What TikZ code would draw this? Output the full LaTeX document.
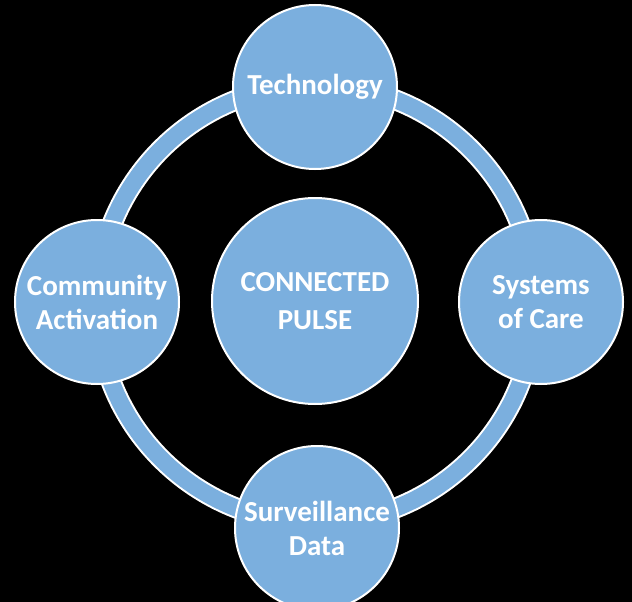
\documentclass[tikz,border=0pt]{standalone}
\usepackage{fontspec}
\setmainfont{Carlito}
\usetikzlibrary{positioning}
\definecolor{pulseblue}{RGB}{123,175,222}
\tikzset{
  hub/.style={circle, draw=white, line width=2pt, fill=pulseblue, text=white,
    inner sep=0pt, align=center, minimum size=#1,
    font=\bfseries\fontsize{29}{34}\selectfont},
  hub/.default=164pt
}

\begin{document}
\begin{tikzpicture}[x=1pt, y=-1pt]
    % Background
    \fill[black] (0,0) rectangle (632,602);
    \useasboundingbox (0,0) rectangle (632,602);

    % Centre circle
    \node[hub=206pt, font=\bfseries\fontsize{29}{38}\selectfont] (pulse) at (315,301) {CONNECTED\\PULSE};

    % Ring behind the outer circles
    \draw[white, line width=21pt] (316,304) circle (219);
    \draw[pulseblue, line width=17pt] (316,304) circle (219);

    % Outer circles
    \node[hub] (tech) at (315,87) {Technology};
    \node[hub] (care) at (541,302) {Systems\\of Care};
    \node[hub] (data) at (317,528) {Surveillance\\Data};
    \node[hub] (comm) at (97,302) {Community\\Activation};
\end{tikzpicture}
\end{document}
